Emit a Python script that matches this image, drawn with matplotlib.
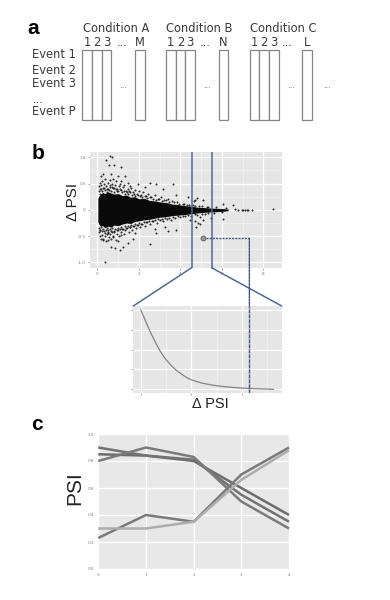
import matplotlib
matplotlib.use("Agg")
import matplotlib.pyplot as plt
from matplotlib.patches import Rectangle, ConnectionPatch

# ---------------- data ----------------
conditions = ['Condition A', 'Condition B', 'Condition C']
sample_labels = [['1', '2', '3', '...', 'M'],
                 ['1', '2', '3', '...', 'N'],
                 ['1', '2', '3', '...', 'L']]
event_labels = ['Event 1', 'Event 2', 'Event 3', '...', 'Event P']

# dense core of the Delta-PSI cloud (envelope)
core_x = [0.02, 0.08, 0.15, 0.25, 0.35, 0.5, 0.65, 0.8, 1.0, 1.2, 1.4, 1.6, 1.8, 2.0, 2.25, 2.5, 2.75,
          3.0, 3.3, 3.6, 3.9, 4.2, 4.5, 4.8, 5.1, 5.4, 5.7, 6.0, 6.3]
core_hi = [0.22, 0.27, 0.30, 0.33, 0.31, 0.34, 0.32, 0.30, 0.31, 0.27, 0.28, 0.24, 0.25, 0.21, 0.22, 0.18,
           0.17, 0.15, 0.14, 0.11, 0.10, 0.08, 0.07, 0.05, 0.045, 0.035, 0.03, 0.025, 0.015]
core_lo = [-0.23, -0.28, -0.31, -0.30, -0.34, -0.31, -0.33, -0.29, -0.30, -0.27, -0.25, -0.26, -0.22,
           -0.21, -0.19, -0.18, -0.16, -0.14, -0.13, -0.11, -0.10, -0.09, -0.075, -0.06, -0.05, -0.04,
           -0.035, -0.03, -0.015]

# individual scattered events
scatter_x = [
    0.59, 0.70, 0.43, 0.54, 0.80, 1.12, 0.27, 0.15, 0.63, 0.99, 1.31, 0.75, 1.15, 1.47, 1.95, 2.51, 2.84, 3.64,
    2.27, 1.55, 3.16, 3.80, 4.36, 4.68,
    0.35, 0.15, 0.27, 0.51, 0.75, 0.99, 0.67, 0.83, 1.07, 1.23, 1.47, 1.71, 0.51, 1.15, 1.79, 2.51, 2.84, 3.40,
    3.80, 3.24, 2.76, 4.68, 4.92, 4.76, 4.44,
    4.81, 5.10, 4.66, 6.06, 6.55, 4.94, 5.10, 4.86, 5.45, 6.06, 6.79, 6.95, 7.10, 7.27, 7.43, 8.44, 6.65, 7.0, 7.2,
    0.05, 0.10, 0.12, 0.18, 0.22, 0.28, 0.33, 0.38, 0.42, 0.48, 0.52, 0.58, 0.62, 0.68, 0.72, 0.78, 0.85, 0.90,
    0.95, 1.02, 1.08, 1.15, 1.22, 1.30, 1.38, 1.45, 1.52, 1.60, 1.70, 1.80, 1.90, 2.00, 2.10, 2.20, 2.35, 2.45,
    2.60, 2.75, 2.90, 3.05, 3.20, 3.40, 3.60, 3.85, 4.10, 4.30, 4.60, 4.90, 5.30, 5.70, 6.20,
    0.05, 0.10, 0.14, 0.20, 0.25, 0.30, 0.36, 0.40, 0.45, 0.50, 0.55, 0.60, 0.65, 0.70, 0.76, 0.82, 0.88, 0.93,
    1.00, 1.06, 1.12, 1.20, 1.28, 1.35, 1.42, 1.50, 1.58, 1.68, 1.76, 1.85, 1.95, 2.05, 2.15, 2.30, 2.40, 2.55,
    2.70, 2.85, 3.00, 3.15, 3.35, 3.55, 3.75, 4.00, 4.20, 4.50, 4.80, 5.20, 5.60, 6.00,
    0.07, 0.13, 0.19, 0.24, 0.31, 0.37, 0.44, 0.49, 0.56, 0.61, 0.67, 0.74, 0.81, 0.87, 0.94, 1.01, 1.09, 1.17,
    1.26, 1.33, 1.41, 1.49, 1.57, 1.66, 1.74, 1.83, 1.93, 2.04, 2.13, 2.27, 2.38, 2.52, 2.66, 2.81, 2.97, 3.12,
    3.28, 3.46, 3.67, 3.92, 4.15, 4.41, 4.72, 5.05, 5.35,
    0.06, 0.11, 0.17, 0.23, 0.29, 0.34, 0.41, 0.47, 0.53, 0.59, 0.66, 0.72, 0.79, 0.86, 0.92, 0.99, 1.07, 1.14,
    1.23, 1.31, 1.39, 1.47, 1.55, 1.64, 1.72, 1.81, 1.91, 2.02, 2.12, 2.24, 2.36, 2.49, 2.63, 2.78, 2.94, 3.09,
    3.26, 3.44, 3.65, 3.90, 4.12, 4.38, 4.68, 5.02, 5.33]
scatter_y = [
    1.02, 1.00, 0.94, 0.86, 0.86, 0.81, 0.69, 0.65, 0.69, 0.65, 0.65, 0.58, 0.54, 0.52, 0.50, 0.51, 0.49, 0.49,
    0.44, 0.46, 0.39, 0.29, 0.25, 0.19,
    -1.00, -0.56, -0.57, -0.58, -0.52, -0.60, -0.70, -0.73, -0.76, -0.70, -0.63, -0.56, -0.44, -0.48, -0.44, -0.65,
    -0.44, -0.41, -0.38, -0.33, -0.37, -0.22, -0.27, -0.32, -0.19,
    0.23, 0.19, 0.17, 0.11, 0.10, -0.13, -0.19, -0.25, -0.16, -0.17, 0.00, 0.00, 0.00, 0.00, -0.01, 0.01, 0.01, -0.01, 0.0,
    0.45, 0.52, 0.40, 0.48, 0.55, 0.42, 0.50, 0.58, 0.45, 0.40, 0.52, 0.47, 0.56, 0.43, 0.50, 0.41, 0.47, 0.55,
    0.40, 0.45, 0.50, 0.38, 0.43, 0.48, 0.36, 0.40, 0.35, 0.42, 0.33, 0.37, 0.31, 0.35, 0.29, 0.33, 0.27, 0.30,
    0.24, 0.28, 0.21, 0.24, 0.19, 0.20, 0.16, 0.15, 0.12, 0.10, 0.09, 0.07, 0.06, 0.05, 0.04,
    -0.42, -0.50, -0.38, -0.47, -0.55, -0.41, -0.50, -0.60, -0.45, -0.39, -0.52, -0.46, -0.55, -0.42, -0.49, -0.40,
    -0.58, -0.45, -0.38, -0.50, -0.42, -0.36, -0.45, -0.39, -0.34, -0.43, -0.33, -0.38, -0.30, -0.35, -0.28, -0.32,
    -0.26, -0.30, -0.24, -0.27, -0.21, -0.25, -0.19, -0.22, -0.18, -0.20, -0.15, -0.14, -0.12, -0.11, -0.09, -0.08,
    -0.06, -0.05,
    0.36, 0.31, 0.39, 0.35, 0.42, 0.37, 0.33, 0.40, 0.38, 0.44, 0.36, 0.41, 0.34, 0.39, 0.36, 0.35, 0.39, 0.33,
    0.36, 0.31, 0.34, 0.30, 0.33, 0.28, 0.31, 0.27, 0.29, 0.26, 0.24, 0.27, 0.22, 0.24, 0.21, 0.19, 0.20, 0.17,
    0.18, 0.15, 0.14, 0.12, 0.11, 0.09, 0.08, 0.07, 0.05,
    -0.34, -0.38, -0.33, -0.41, -0.37, -0.44, -0.38, -0.35, -0.42, -0.37, -0.40, -0.35, -0.43, -0.36, -0.39, -0.34,
    -0.37, -0.33, -0.36, -0.31, -0.34, -0.30, -0.32, -0.29, -0.31, -0.27, -0.28, -0.25, -0.26, -0.23, -0.24, -0.21,
    -0.22, -0.19, -0.18, -0.17, -0.16, -0.15, -0.13, -0.12, -0.11, -0.10, -0.085, -0.07, -0.055]

selected_x, selected_y = 5.1, -0.54      # highlighted event
window_lo, window_hi = 4.54, 5.50        # zoom window in panel b
cutoff_scatter_x = 7.32                  # where the dashed guide turns down

curve_x = [0.0, 0.05, 0.1, 0.15, 0.2, 0.3, 0.4, 0.5, 0.6, 0.7, 0.8, 0.9, 1.0, 1.2, 1.4, 1.6, 1.8, 2.0, 2.3, 2.63]
curve_y = [4.0, 3.72, 3.42, 3.12, 2.84, 2.32, 1.86, 1.50, 1.21, 0.97, 0.78, 0.61, 0.48, 0.32, 0.22, 0.15,
           0.10, 0.06, 0.03, 0.0]
cutoff_zoom_x = 2.15

time_points = [0, 1, 2, 3, 4]
psi_series = [
    [0.85, 0.84, 0.80, 0.60, 0.40],
    [0.90, 0.84, 0.81, 0.55, 0.35],
    [0.80, 0.90, 0.83, 0.50, 0.30],
    [0.23, 0.40, 0.35, 0.70, 0.90],
    [0.30, 0.30, 0.35, 0.66, 0.88],
]
psi_colors = ['#6c6c6c', '#737373', '#7a7a7a', '#7a7a7a', '#adadad']

# ---------------- figure ----------------
W, H = 390, 600
fig = plt.figure(figsize=(W / 100, H / 100), dpi=100)
fig.patch.set_facecolor('white')

def fx(px):
    return px / W

def fy(py):
    return 1 - py / H

# ---------- panel a ----------
ax_a = fig.add_axes([0, fy(140), 1, 140 / H])
ax_a.set_xlim(0, W)
ax_a.set_ylim(140, 0)
ax_a.axis('off')
group_x0 = [82.3, 166.0, 249.7]
col_w = 9.65
col_offsets = [0, 1, 2, 5.45]
txt_kw = dict(family='DejaVu Sans', color='#3a3a3a', fontsize=8.3)
for gi, cond in enumerate(conditions):
    x0 = group_x0[gi]
    ax_a.text(x0 + 0.3, 29, cond, ha='left', va='center', **txt_kw)
    labs = sample_labels[gi]
    for off in col_offsets:
        ax_a.add_patch(Rectangle((x0 + off * col_w, 50), col_w, 70, facecolor='white',
                                 edgecolor='#858585', lw=0.9))
    centers = [x0 + (o + 0.5) * col_w for o in col_offsets]
    for k in range(3):
        ax_a.text(centers[k], 43, labs[k], ha='center', va='center', **txt_kw)
    ax_a.text(x0 + 39.5 if gi < 2 else x0 + 37.8, 43, labs[3], ha='center', va='center', **txt_kw)
    ax_a.text(centers[3], 43, labs[4], ha='center', va='center', **txt_kw)
    ax_a.text(x0 + 41.2, 85, '...', ha='center', va='center', family='DejaVu Sans',
              color='#555555', fontsize=6)
ax_a.text(group_x0[2] + 77, 85, '...', ha='center', va='center', family='DejaVu Sans',
          color='#555555', fontsize=6)
for yy, lab in zip([55, 70, 83.5, 99, 111.7], event_labels):
    ax_a.text(32.3, yy, lab, ha='left', va='center', **txt_kw)

# ---------- panel labels ----------
for lab, (px, py) in zip(['a', 'b', 'c'], [(33, 28), (38, 154), (37, 425)]):
    fig.text(fx(px), fy(py), lab, ha='center', va='center', fontsize=15,
             fontweight='bold', family='Liberation Sans', color='black')

GG_BG = '#E6E6E6'

def gg_style(ax):
    ax.set_facecolor(GG_BG)
    for s in ax.spines.values():
        s.set_visible(False)
    ax.grid(True, which='major', color='white', lw=0.9)
    ax.grid(True, which='minor', color='#F4F4F4', lw=0.5)
    ax.set_axisbelow(True)
    ax.tick_params(which='major', length=1.5, width=0.5, color='#8a8a8a',
                   labelsize=3, labelcolor='#7a7a7a', pad=1.5)
    ax.tick_params(which='minor', length=0)

# ---------- panel b: scatter ----------
ax_b = fig.add_axes([fx(90), fy(267.7), (281.7 - 90) / W, (267.7 - 152) / H])
gg_style(ax_b)
ax_b.set_xlim(-0.36, 8.88)
ax_b.set_ylim(-1.10, 1.10)
ax_b.set_xticks([0, 2, 4, 6, 8])
ax_b.set_xticks([1, 3, 5, 7], minor=True)
ax_b.set_yticks([-1.0, -0.5, 0, 0.5, 1.0])
ax_b.set_yticklabels(['-1.0', '-0.5', '0', '0.5', '1.0'])
ax_b.set_yticks([-0.75, -0.25, 0.25, 0.75], minor=True)
ax_b.fill_between(core_x, core_lo, core_hi, color='#0a0a0a', lw=0, zorder=2)
ax_b.plot(scatter_x, scatter_y, 'o', ms=1.1, mfc='#111111', mec='#111111', mew=0.25, alpha=0.85, zorder=3)
blue = '#4d6a98'
ax_b.axvline(window_lo, color=blue, lw=1.1, zorder=5)
ax_b.axvline(window_hi, color=blue, lw=1.1, zorder=5)
ax_b.plot([selected_x], [selected_y], 'o', ms=3.5, mfc='#9a9a9a', mec='#555555', mew=0.6, zorder=6)
ax_b.plot([selected_x + 0.12, cutoff_scatter_x], [selected_y, selected_y], color='#3f5a88',
          lw=1.0, ls=(0, (1.5, 0.8)), zorder=6)
fig.text(fx(73), fy(202), 'Δ PSI', rotation=90, ha='center', va='center', fontsize=11,
         family='Liberation Sans', color='#222222')

# ---------- zoomed panel ----------
ax_z = fig.add_axes([fx(133.3), fy(393.3), (281.7 - 133.3) / W, (393.3 - 306) / H])
gg_style(ax_z)
ax_z.set_xlim(-0.147, 2.79)
ax_z.set_ylim(-0.2, 4.2)
ax_z.set_xticks([0, 1, 2])
ax_z.set_xticks([0.5, 1.5, 2.5], minor=True)
ax_z.set_yticks([0, 1, 2, 3, 4])
ax_z.set_xticklabels([])
ax_z.set_yticklabels([])
ax_z.plot(curve_x, curve_y, color='#858585', lw=0.9, zorder=3)
ax_z.axvline(cutoff_zoom_x, color='#3f5a88', lw=1.0, ls=(0, (3, 0.6)), zorder=5)
fig.text(fx(210), fy(404), 'Δ PSI', ha='center', va='center', fontsize=10.5,
         family='Liberation Sans', color='#222222')

# connectors between scatter window and zoomed panel
for xw, corner in [(window_lo, (0, 1)), (window_hi, (1, 1))]:
    con = ConnectionPatch(xyA=(xw, -1.10), coordsA=ax_b.transData,
                          xyB=corner, coordsB=ax_z.transAxes,
                          color=blue, lw=1.1)
    fig.add_artist(con)
con = ConnectionPatch(xyA=(cutoff_scatter_x, selected_y), coordsA=ax_b.transData,
                      xyB=(cutoff_zoom_x, 4.2), coordsB=ax_z.transData,
                      color='#3f5a88', lw=1.0, ls=(0, (1.5, 0.8)))
fig.add_artist(con)

# ---------- panel c ----------
ax_c = fig.add_axes([fx(98.3), fy(569), (289 - 98.3) / W, (569 - 434) / H])
ax_c.set_facecolor('#E8E8E8')
for s in ax_c.spines.values():
    s.set_visible(False)
ax_c.grid(True, color='white', lw=1.0)
ax_c.set_axisbelow(True)
ax_c.set_xlim(0, 4)
ax_c.set_ylim(0, 1)
ax_c.set_xticks(time_points)
ax_c.set_yticks([0.0, 0.2, 0.4, 0.6, 0.8, 1.0])
ax_c.set_yticklabels(['0.0', '0.2', '0.4', '0.6', '0.8', '1.0'])
ax_c.tick_params(length=0, labelsize=3, labelcolor='#808080', pad=3)
for ys, c in zip(psi_series, psi_colors):
    ax_c.plot(time_points, ys, color=c, lw=1.8, solid_capstyle='butt', clip_on=False)
fig.text(fx(75), fy(488), 'PSI', rotation=90, ha='center', va='center', fontsize=15,
         family='Liberation Sans', color='#222222')

fig.savefig('out.png', dpi=100)
